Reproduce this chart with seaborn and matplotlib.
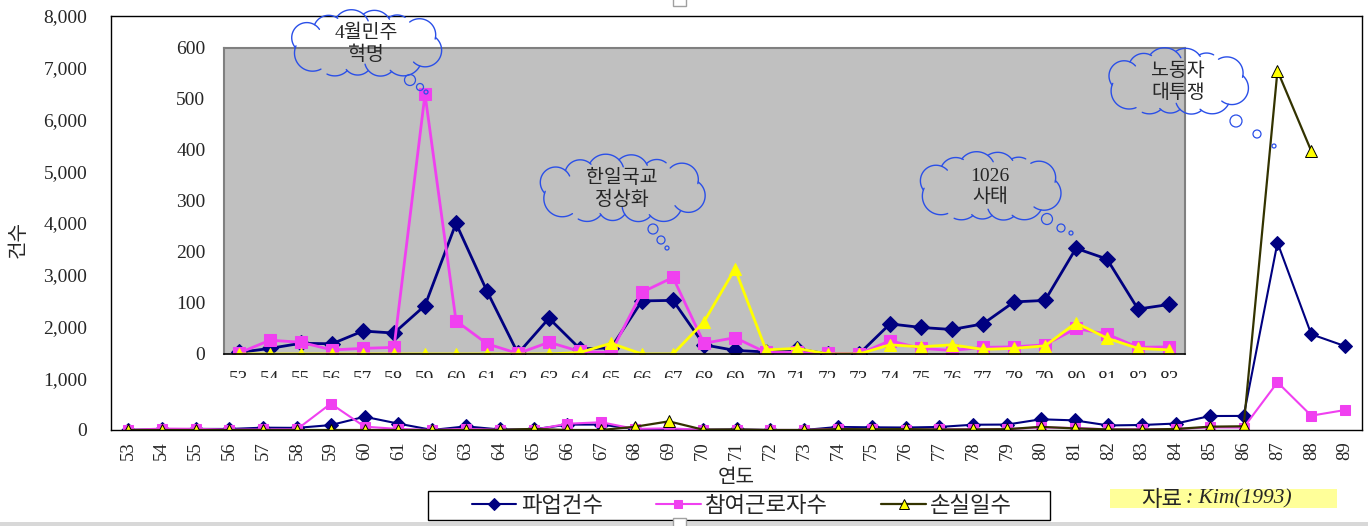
import numpy as np
import pandas as pd
import seaborn as sns
import matplotlib
matplotlib.use("Agg")
import matplotlib.pyplot as plt
from matplotlib.patches import Circle, Rectangle

# years 1953-1989, values
years = list(range(53, 90))
strikes = [3, 11, 21, 20, 45, 41, 95, 256, 123, 1, 70, 10, 12, 104, 105, 18,
           7, 4, 10, 0, 0, 59, 52, 48, 59, 102, 105, 207, 186, 88, 97,
           125, 270, 272, 3620, 1850, 1620]
workers = [2, 27, 23, 8, 11, 13, 509, 65, 20, 1, 23, 5, 3, 121, 150, 21,
           32, 3, 3, 1, 0, 26, 11, 7, 13, 14, 18, 50, 39, 13, 14,
           20, 50, 47, 922, 277, 386]
lost_days = [0, 0, 0, 0, 0, 0, 0, 0, 0, 0, 0, 3, 21, 0, 0, 63,
             167, 8, 11, 0, 0, 18, 14, 18, 9, 11, 16, 61, 31, 11, 8,
             20, 64, 72, 6943, 5391, None]
inset_last_year = 83

series_names = ["파업건수", "참여근로자수", "손실일수"]
clouds = [
    ("4월민주\n혁명", 366, 44, 161, 66, [(410, 80, 5.5), (420, 87, 3.5), (426, 92, 2)]),
    ("한일국교\n정상화", 622, 189, 178, 67, [(653, 229, 5), (661, 240, 4), (667, 248, 2)]),
    ("1026\n사태", 990, 187, 150, 68, [(1047, 219, 5.5), (1061, 228, 4), (1071, 233, 2)]),
    ("노동자\n대투쟁", 1178, 82, 149, 66, [(1236, 121, 6), (1257, 134, 4), (1274, 146, 2)]),
]

NAVY = "#000080"
PINK = "#F040F0"
OLIVE = "#333300"
YELLOW = "#FFFF00"
BLUE = "#2a4fe8"
KR = "Noto Sans CJK KR"
W, H = 1368, 526

df = pd.DataFrame({"year": years, "strikes": strikes, "workers": workers,
                   "lost": [np.nan if v is None else v for v in lost_days]})
inset_df = df[df["year"] <= inset_last_year]

sns.set_style("white")
plt.rcParams["font.family"] = ["Liberation Serif", KR]

fig = plt.figure(figsize=(W / 100, H / 100), dpi=100)


def box(x0, y0, x1, y1):
    return [x0 / W, 1 - y1 / H, (x1 - x0) / W, (y1 - y0) / H]


ax = fig.add_axes(box(111, 16, 1362, 430))
ins = fig.add_axes(box(223.5, 47.7, 1184.5, 354))

# main chart
sns.lineplot(data=df, x="year", y="strikes", ax=ax, color=NAVY, lw=1.5,
             marker="D", markersize=7, markeredgecolor=NAVY, label=series_names[0])
sns.lineplot(data=df, x="year", y="workers", ax=ax, color=PINK, lw=1.5,
             marker="s", markersize=7.5, markeredgecolor=PINK, label=series_names[1])
sns.lineplot(data=df, x="year", y="lost", ax=ax, color=OLIVE, lw=1.6,
             marker="^", markersize=8.5, markerfacecolor=YELLOW,
             markeredgecolor="black", markeredgewidth=0.7, label=series_names[2])
ax.set_xlim(52.5, 89.5)
ax.set_ylim(0, 8000)
ax.set_xticks(years)
ax.set_xticklabels([str(y) for y in years], rotation=90, fontsize=13.5)
ax.set_xticks(np.arange(52.5, 89.6, 1), minor=True)
ax.tick_params(axis="x", which="major", length=0, pad=8)
ax.tick_params(axis="x", which="minor", length=5, direction="in", color="black", width=1)
ax.set_yticks(range(0, 8001, 1000))
ax.set_yticklabels([f"{v:,}" for v in range(0, 8001, 1000)], fontsize=14)
ax.tick_params(axis="y", length=0, pad=17)
for s in ax.spines.values():
    s.set_color("black")
    s.set_linewidth(1)
ax.set_xlabel("연도", family=KR, fontsize=14.5, labelpad=5)
ax.set_ylabel("건수", family=KR, fontsize=14.5)
ax.yaxis.set_label_coords(-0.066, 0.46)
handles, labels = ax.get_legend_handles_labels()
ax.legend(handles, labels, loc="center", bbox_to_anchor=(742 / W, 1 - 505.5 / H),
          bbox_transform=fig.transFigure, ncol=3, frameon=False,
          prop={"family": KR, "size": 16}, handlelength=2.0, handletextpad=0.2,
          columnspacing=2.4, markerscale=0.85)

# inset chart
ins.set_facecolor("#C0C0C0")
sns.lineplot(data=inset_df, x="year", y="strikes", ax=ins, color=NAVY, lw=2,
             marker="D", markersize=8, markeredgecolor=NAVY, legend=False)
sns.lineplot(data=inset_df, x="year", y="workers", ax=ins, color=PINK, lw=2,
             marker="s", markersize=8, markeredgecolor=PINK, legend=False)
sns.lineplot(data=inset_df, x="year", y="lost", ax=ins, color=YELLOW, lw=2,
             marker="^", markersize=9, markeredgecolor=YELLOW, legend=False)
ins.set_xlim(52.5, inset_last_year + 0.5)
ins.set_ylim(0, 600)
inset_years = list(inset_df["year"])
ins.set_xticks(inset_years)
ins.set_xticklabels([str(y) for y in inset_years], fontsize=14)
ins.set_xticks(np.arange(53.5, inset_last_year, 1), minor=True)
ins.tick_params(axis="x", which="major", length=0, pad=12)
ins.tick_params(axis="x", which="minor", length=5, direction="in", color="black", width=1)
ins.set_yticks(range(0, 601, 100))
ins.set_yticklabels([str(v) for v in range(0, 601, 100)], fontsize=14)
ins.tick_params(axis="y", length=0, pad=13)
ins.set_xlabel("")
ins.set_ylabel("")
for name, s in ins.spines.items():
    s.set_color("#808080")
    s.set_linewidth(1.5)
ins.spines["bottom"].set_color("black")
ins.spines["bottom"].set_linewidth(1.2)

# overlay in pixel coordinates for callouts and boxes
ov = fig.add_axes([0, 0, 1, 1], zorder=10)
ov.set_xlim(0, W)
ov.set_ylim(H, 0)
ov.axis("off")
ov.patch.set_visible(False)

# inset tick labels are cut off in the original
ov.add_patch(Rectangle((212, 377.5), 985, 11, fc="white", ec="none", zorder=1))


def wrap(a):
    return (a + np.pi) % (2 * np.pi) - np.pi


def outer_meet(c1, r1, c2, r2, centre):
    d = np.hypot(*(c2 - c1))
    a = (r1 ** 2 - r2 ** 2 + d ** 2) / (2 * d)
    h = np.sqrt(max(r1 ** 2 - a ** 2, 0))
    u = (c2 - c1) / d
    p = c1 + a * u
    perp = np.array([-u[1], u[0]])
    cands = [p + h * perp, p - h * perp]
    return max(cands, key=lambda q: np.hypot(*(q - centre)))


def draw_cloud(text, cx, cy, w, h, bubbles, n=12):
    r0 = h * 0.25
    ex, ey = w / 2 - r0, h / 2 - r0
    t = np.linspace(0, 2 * np.pi, 2000)
    px, py = cx + ex * np.cos(t), cy + ey * np.sin(t)
    s = np.concatenate([[0], np.cumsum(np.hypot(np.diff(px), np.diff(py)))])
    pick = np.searchsorted(s, np.linspace(0, s[-1], n, endpoint=False) + s[-1] * 0.03)
    centre = np.array([cx, cy])
    cs = [np.array([px[k], py[k]]) for k in pick]
    rs = [r0 * (1 + 0.12 * np.sin(1.7 * i)) for i in range(n)]
    for i in range(n):
        c, r = cs[i], rs[i]
        pm = outer_meet(c, r, cs[i - 1], rs[i - 1], centre)
        pn = outer_meet(c, r, cs[(i + 1) % n], rs[(i + 1) % n], centre)
        phi = np.arctan2(*(c - centre)[::-1])
        d1 = wrap(np.arctan2(*(pm - c)[::-1]) - phi)
        d2 = wrap(np.arctan2(*(pn - c)[::-1]) - phi)
        hook = 0.45 if i % 2 == 0 else 0.1
        d2 = d2 + np.sign(d2) * hook
        a = phi + np.linspace(d1, d2, 60)
        ov.plot(c[0] + r * np.cos(a), c[1] + r * np.sin(a), color=BLUE, lw=1.0,
                solid_capstyle="round", zorder=4)
    for x, y, rr in bubbles:
        ov.add_patch(Circle((x, y), rr, fc="none", ec=BLUE, lw=0.9, zorder=4))
    ov.text(cx, cy, text, ha="center", va="center", fontsize=14, linespacing=1.25,
            family=["Liberation Serif", KR], zorder=5)


for c in clouds:
    draw_cloud(*c)

# legend frame
ov.add_patch(Rectangle((428, 491), 622, 29, fc="none", ec="black", lw=1, zorder=2))

# source note
ov.add_patch(Rectangle((1110, 489), 227, 19, fc="#FFFF99", ec="none", zorder=2))
ov.text(1141, 499, "자료", family=KR, fontsize=16, ha="left", va="center", zorder=3)
ov.text(1186, 499, ": Kim(1993)", family="Liberation Serif", style="italic",
        fontsize=15.5, ha="left", va="center", zorder=3)

# window handles / bottom bar
ov.add_patch(Rectangle((0, 522), W, 4, fc="#D8D8D8", ec="none", zorder=2))
ov.add_patch(Rectangle((673, -2), 13, 8, fc="white", ec="#A0A0A0", lw=1, zorder=2))
ov.add_patch(Rectangle((673, 518), 13, 10, fc="white", ec="#A0A0A0", lw=1, zorder=3))

fig.savefig("out.png", dpi=100)
